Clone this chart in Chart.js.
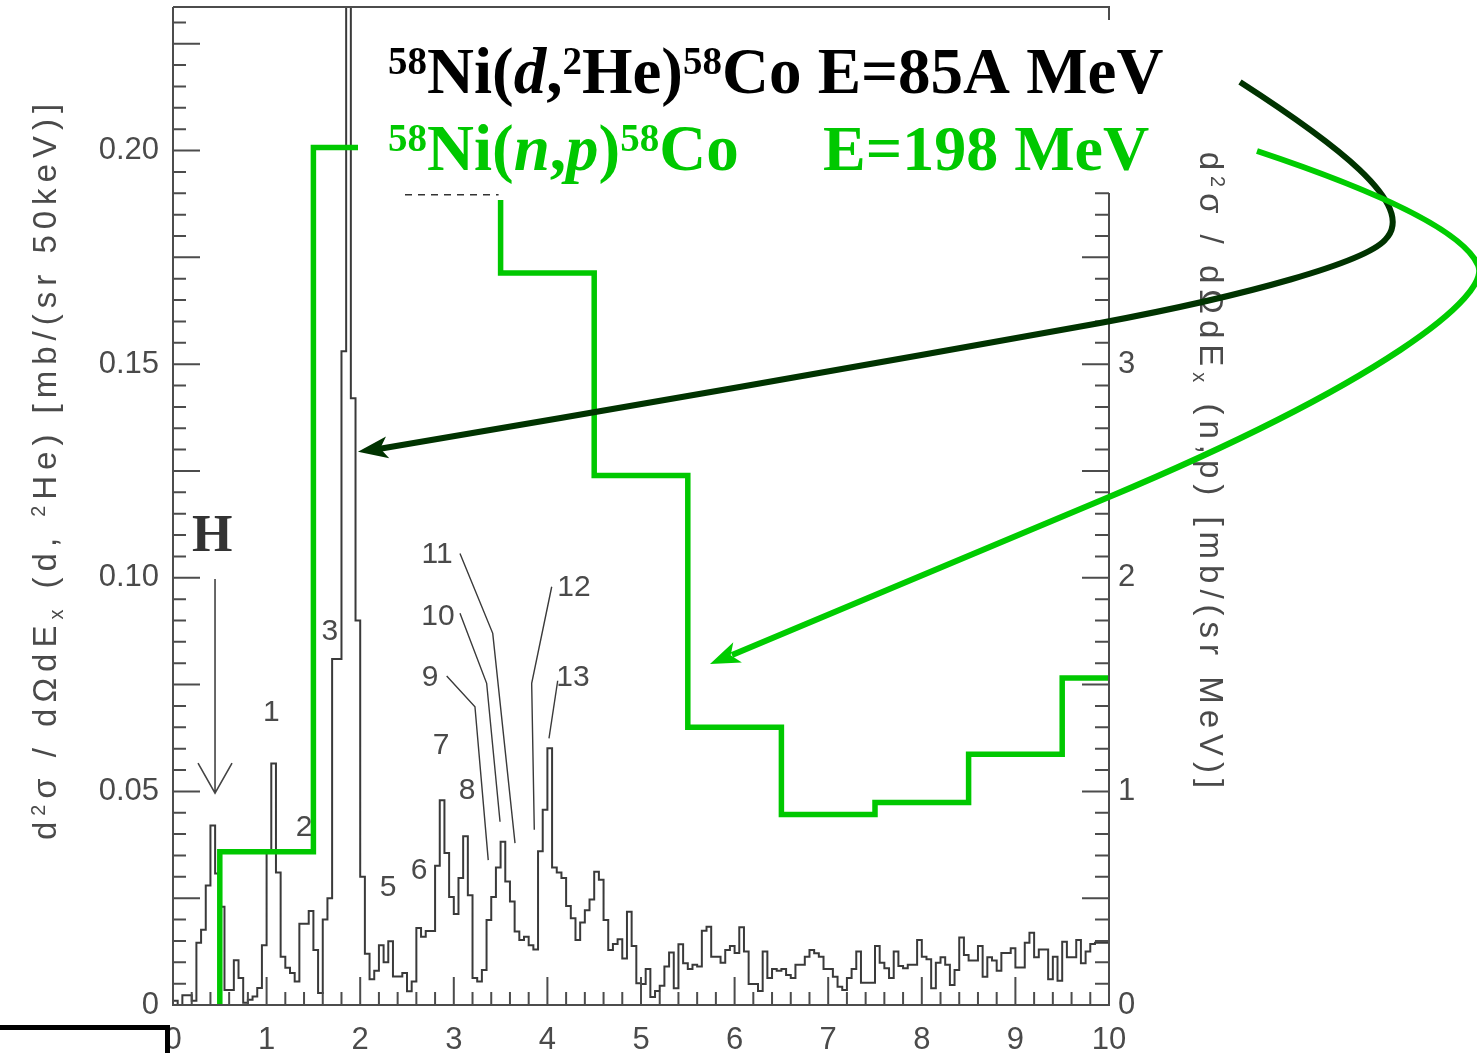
<!DOCTYPE html>
<html>
<head>
<meta charset="utf-8">
<script src="https://cdn.jsdelivr.net/npm/chart.js@4.4.1/dist/chart.umd.min.js"></script>
<style>
  html, body { margin: 0; padding: 0; background: #fff; overflow: hidden; }
  canvas { display: block; }
</style>
</head>
<body>
<canvas id="c" width="1477" height="1053"></canvas>
<script>
// 58Ni(d,2He)58Co spectrum, counts per 50 keV bin from Ex = 0 to 10 MeV
const dHeBinWidth = 0.05;
const dHeValues = [
  0.0010, 0.0000, 0.0023, 0.0023, 0.0010, 0.0146, 0.0176, 0.0280, 0.0420, 0.0308,
  0.0230, 0.0035, 0.0035, 0.0105, 0.0063, 0.0005, 0.0012, 0.0020, 0.0040, 0.0140,
  0.0360, 0.0565, 0.0310, 0.0113, 0.0087, 0.0075, 0.0055, 0.0190, 0.0190, 0.0220,
  0.0129, 0.0028, 0.0200, 0.0250, 0.0810, 0.0810, 0.1530, 0.3000, 0.1420, 0.0900,
  0.0300, 0.0120, 0.0060, 0.0080, 0.0140, 0.0100, 0.0149, 0.0067, 0.0067, 0.0075,
  0.0032, 0.0055, 0.0180, 0.0160, 0.0173, 0.0173, 0.0326, 0.0479, 0.0356, 0.0253,
  0.0213, 0.0297, 0.0395, 0.0257, 0.0063, 0.0055, 0.0082, 0.0199, 0.0253, 0.0322,
  0.0382, 0.0289, 0.0242, 0.0172, 0.0152, 0.0160, 0.0140, 0.0130, 0.0360, 0.0457,
  0.0601, 0.0322, 0.0310, 0.0297, 0.0232, 0.0203, 0.0152, 0.0193, 0.0222, 0.0247,
  0.0312, 0.0293, 0.0199, 0.0129, 0.0143, 0.0154, 0.0109, 0.0218, 0.0138, 0.0051,
  0.0049, 0.0084, 0.0019, 0.0033, 0.0045, 0.0090, 0.0123, 0.0039, 0.0142, 0.0098,
  0.0084, 0.0094, 0.0090, 0.0174, 0.0183, 0.0113, 0.0113, 0.0099, 0.0129, 0.0138,
  0.0122, 0.0182, 0.0125, 0.0049, 0.0049, 0.0033, 0.0125, 0.0063, 0.0084, 0.0080,
  0.0084, 0.0070, 0.0063, 0.0094, 0.0094, 0.0113, 0.0129, 0.0121, 0.0113, 0.0084,
  0.0084, 0.0066, 0.0043, 0.0035, 0.0063, 0.0084, 0.0125, 0.0052, 0.0052, 0.0052,
  0.0138, 0.0099, 0.0086, 0.0063, 0.0125, 0.0091, 0.0086, 0.0094, 0.0094, 0.0152,
  0.0113, 0.0107, 0.0039, 0.0099, 0.0112, 0.0094, 0.0047, 0.0082, 0.0158, 0.0117,
  0.0104, 0.0104, 0.0138, 0.0066, 0.0112, 0.0104, 0.0080, 0.0122, 0.0122, 0.0133,
  0.0088, 0.0088, 0.0146, 0.0169, 0.0112, 0.0130, 0.0130, 0.0060, 0.0113, 0.0057,
  0.0148, 0.0112, 0.0112, 0.0152, 0.0098, 0.0125, 0.0143, 0.0146, 0.0146, 0.0146
];

// 58Ni(n,p)58Co at 198 MeV, 1 MeV bins (last bin half width)
const npEdges  = [0.5, 1.5, 2.5, 3.5, 4.5, 5.5, 6.5, 7.5, 8.5, 9.5, 10];
const npValues = [0.718, 4.014, 3.793, 3.427, 2.479, 1.300, 0.892, 0.948, 1.174, 1.531];

// axis ranges and ticks
const exMin = 0, exMax = 10;
const dHeMax = 0.2336;
const npPerDHe = 20;               // right axis scale factor
const leftTickStep = 0.05;
const rightTickStep = 1;
const xTickStep = 1;

// peak labels: [text, Ex, d2He value]
const peakLabels = [
  ['1', 1.052, 0.0684], ['2', 1.400, 0.0414], ['3', 1.677, 0.0873],
  ['5', 2.297, 0.0274], ['6', 2.628, 0.0314], ['7', 2.863, 0.0606],
  ['8', 3.141, 0.0501], ['9', 2.746, 0.0766], ['10', 2.831, 0.0908],
  ['11', 2.821, 0.1053], ['12', 4.284, 0.0976], ['13', 4.274, 0.0766]
];
// leader lines from labels to peaks: list of [Ex, value] vertices
const leaderLines = [
  [[2.924, 0.0770], [3.226, 0.0698], [3.368, 0.0339]],
  [[3.066, 0.0917], [3.351, 0.0753], [3.494, 0.0429]],
  [[3.066, 0.1057], [3.416, 0.0870], [3.654, 0.0379]],
  [[4.046, 0.0979], [3.832, 0.0753], [3.860, 0.0410]],
  [[4.110, 0.0759], [4.017, 0.0624]]
];
// "H" marker: label and arrow position
const hMarker = { Ex: 0.449, labelY: 0.1093, fromY: 0.0997, toY: 0.0496 };
// arrow targets
const dHeArrowTip = { Ex: 1.976, value: 0.1295 };
const npArrowTip  = { Ex: 5.737, value: 1.596 };

const sans = 'Liberation Sans';
const serif = 'Liberation Serif';
const axisGrey = '#4a4a4a';
const green = 'rgb(0,200,0)';
const darkGreen = '#003300';

// build histogram points (left bin edges + closing edge)
const dHePoints = [{ x: exMin, y: 0 }];
dHeValues.forEach((v, i) => dHePoints.push({ x: i * dHeBinWidth, y: v }));
dHePoints.push({ x: exMax, y: dHeValues[dHeValues.length - 1] });

const npPoints = [{ x: npEdges[0], y: 0 }];
npValues.forEach((v, i) => npPoints.push({ x: npEdges[i], y: v }));
npPoints.push({ x: npEdges[npEdges.length - 1], y: npValues[npValues.length - 1] });

// ---- rich text helpers (superscripts / subscripts / italics) ----
function fontFor(p, size, family, bold) {
  const s = (p.sup || p.sub) ? size * 0.6 : size;
  const b = (p.b !== undefined) ? p.b : bold;
  return (p.it ? 'italic ' : '') + (b ? 'bold ' : '') + s.toFixed(1) + 'px "' + family + '"';
}
function richWidth(ctx, parts, size, family, bold, spacing) {
  let w = 0;
  for (const p of parts) {
    ctx.font = fontFor(p, size, family, bold);
    if (spacing) { for (const ch of p.t) w += ctx.measureText(ch).width + spacing; }
    else w += ctx.measureText(p.t).width;
  }
  return spacing ? w - spacing : w;
}
function drawRich(ctx, parts, x, y, o) {
  const size = o.size, family = o.family, bold = !!o.bold, spacing = o.spacing || 0;
  ctx.save();
  ctx.translate(x, y);
  ctx.rotate(o.angle || 0);
  ctx.fillStyle = o.color;
  ctx.textAlign = 'left';
  ctx.textBaseline = 'alphabetic';
  const w = richWidth(ctx, parts, size, family, bold, spacing);
  let cx = o.align === 'center' ? -w / 2 : 0;
  for (const p of parts) {
    ctx.font = fontFor(p, size, family, bold);
    const dy = p.sup ? -size * (o.supRise || 0.34) : p.sub ? size * 0.2 : 0;
    if (spacing) {
      for (const ch of p.t) { ctx.fillText(ch, cx, dy); cx += ctx.measureText(ch).width + spacing; }
    } else {
      ctx.fillText(p.t, cx, dy); cx += ctx.measureText(p.t).width;
    }
  }
  ctx.restore();
}
function arrowHead(ctx, tipX, tipY, fromX, fromY, len, half, color) {
  const a = Math.atan2(tipY - fromY, tipX - fromX);
  const bx = tipX - len * Math.cos(a), by = tipY - len * Math.sin(a);
  const nx = -Math.sin(a), ny = Math.cos(a);
  const mx = tipX - len * 0.75 * Math.cos(a), my = tipY - len * 0.75 * Math.sin(a);
  ctx.save();
  ctx.fillStyle = color;
  ctx.beginPath();
  ctx.moveTo(tipX, tipY);
  ctx.lineTo(bx + nx * half, by + ny * half);
  ctx.lineTo(mx, my);
  ctx.lineTo(bx - nx * half, by - ny * half);
  ctx.closePath();
  ctx.fill();
  ctx.restore();
}

// ---- overlay: frame, ticks, axis titles, annotations ----
const overlay = {
  id: 'overlay',
  afterDatasetsDraw(chart) {
    const ctx = chart.ctx;
    const xs = chart.scales.x, yl = chart.scales.y, yr = chart.scales.y2;
    const area = chart.chartArea;
    const L = area.left, R = area.right, T = area.top, B = area.bottom;

    // white panel behind the reaction titles
    ctx.save();
    ctx.fillStyle = '#fff';
    ctx.fillRect(358, 20, 742, 180);
    ctx.fillRect(1100, 20, 88, 173);
    ctx.restore();

    // the (n,p) bin hidden under the panel, shown dashed
    ctx.save();
    ctx.strokeStyle = '#333';
    ctx.lineWidth = 1.6;
    ctx.setLineDash([7, 6]);
    const dy = yr.getPixelForValue(npValues[2]);
    ctx.beginPath();
    ctx.moveTo(405, dy);
    ctx.lineTo(xs.getPixelForValue(npEdges[3]) - 2, dy);
    ctx.stroke();
    ctx.restore();

    // frame and ticks
    ctx.save();
    ctx.strokeStyle = '#4c4c4c';
    ctx.lineWidth = 2;
    ctx.lineCap = 'butt';
    ctx.beginPath();
    ctx.moveTo(L, T); ctx.lineTo(R + 1, T);
    ctx.moveTo(L, T); ctx.lineTo(L, B + 1);
    ctx.moveTo(L, B); ctx.lineTo(R + 1, B);
    ctx.moveTo(R, T); ctx.lineTo(R, 20);
    ctx.moveTo(R, 193); ctx.lineTo(R, B + 1);
    ctx.stroke();

    ctx.beginPath();
    for (let i = 0; i * 0.005 <= dHeMax + 1e-9; i++) {
      const y = yl.getPixelForValue(i * 0.005);
      const len = (i % 5 === 0) ? 27 : 13;
      ctx.moveTo(L, y); ctx.lineTo(L + len, y);
    }
    for (let i = 0; i * 0.1 <= dHeMax * npPerDHe + 1e-9; i++) {
      const y = yr.getPixelForValue(i * 0.1);
      if (y < 193) continue;
      const len = (i % 5 === 0) ? 27 : 14;
      ctx.moveTo(R - len, y); ctx.lineTo(R, y);
    }
    for (let i = 0; i <= 50; i++) {
      const x = xs.getPixelForValue(i * 0.2);
      const len = (i % 5 === 0) ? 28 : 13;
      ctx.moveTo(x, B); ctx.lineTo(x, B - len);
    }
    ctx.stroke();
    ctx.restore();

    // axis titles
    drawRich(ctx, [
      { t: 'd' }, { t: '2', sup: true }, { t: 'σ / dΩdE' }, { t: 'x', sub: true },
      { t: ' (d, ' }, { t: '2', sup: true }, { t: 'He) [mb/(sr 50keV)]' }
    ], 56, 472, { size: 33, family: sans, color: axisGrey, spacing: 6, align: 'center', angle: -Math.PI / 2 });
    drawRich(ctx, [
      { t: 'd' }, { t: '2', sup: true }, { t: 'σ / dΩdE' }, { t: 'x', sub: true },
      { t: ' (n,p) [mb/(sr MeV)]' }
    ], 1200, 470, { size: 33, family: sans, color: axisGrey, spacing: 6, align: 'center', angle: Math.PI / 2 });

    // reaction titles
    drawRich(ctx, [
      { t: '58', sup: true }, { t: 'Ni(' }, { t: 'd', it: true }, { t: ',' }, { t: '2', sup: true },
      { t: 'He)' }, { t: '58', sup: true }, { t: 'Co E=85A MeV' }
    ], 388, 93, { size: 65, family: serif, bold: true, color: '#000', supRise: 0.3 });
    drawRich(ctx, [
      { t: '58', sup: true }, { t: 'Ni(' }, { t: 'n', it: true }, { t: ',' }, { t: 'p', it: true },
      { t: ')' }, { t: '58', sup: true }, { t: 'Co' }
    ], 388, 170, { size: 65, family: serif, bold: true, color: green, supRise: 0.3 });
    drawRich(ctx, [{ t: 'E=198 MeV' }], 823, 170, { size: 64, family: serif, bold: true, color: green });

    // curved arrows
    const t1x = xs.getPixelForValue(dHeArrowTip.Ex), t1y = yl.getPixelForValue(dHeArrowTip.value);
    ctx.save();
    ctx.lineCap = 'butt';
    ctx.lineJoin = 'round';
    ctx.strokeStyle = darkGreen;
    ctx.lineWidth = 6;
    ctx.beginPath();
    ctx.moveTo(1240, 82);
    ctx.bezierCurveTo(1330, 140, 1420, 205, 1385, 240);
    ctx.bezierCurveTo(1365, 262, 1250, 295, 1100, 323);
    ctx.quadraticCurveTo(740, 388, t1x + 22, t1y - 3);
    ctx.stroke();
    arrowHead(ctx, t1x, t1y, t1x + 40, t1y - 6, 30, 11, darkGreen);

    const t2x = xs.getPixelForValue(npArrowTip.Ex), t2y = yr.getPixelForValue(npArrowTip.value);
    ctx.strokeStyle = 'rgb(0,204,0)';
    ctx.beginPath();
    ctx.moveTo(1257, 151);
    ctx.bezierCurveTo(1350, 182, 1460, 225, 1478, 265);
    ctx.bezierCurveTo(1492, 296, 1380, 383, 1109, 497);
    ctx.lineTo(t2x + 22, t2y - 9);
    ctx.stroke();
    arrowHead(ctx, t2x, t2y, t2x + 40, t2y - 17, 30, 11, 'rgb(0,204,0)');
    ctx.restore();

    // peak labels and leader lines
    ctx.save();
    ctx.fillStyle = axisGrey;
    ctx.font = '30px "' + sans + '"';
    ctx.textAlign = 'center';
    ctx.textBaseline = 'middle';
    for (const [t, ex, v] of peakLabels) ctx.fillText(t, xs.getPixelForValue(ex), yl.getPixelForValue(v));
    ctx.strokeStyle = '#3a3a3a';
    ctx.lineWidth = 1.4;
    for (const line of leaderLines) {
      ctx.beginPath();
      line.forEach(([ex, v], i) => {
        const px = xs.getPixelForValue(ex), py = yl.getPixelForValue(v);
        if (i === 0) ctx.moveTo(px, py); else ctx.lineTo(px, py);
      });
      ctx.stroke();
    }
    // H marker
    const hx = xs.getPixelForValue(hMarker.Ex);
    const hy0 = yl.getPixelForValue(hMarker.fromY), hy1 = yl.getPixelForValue(hMarker.toY);
    ctx.fillStyle = '#333';
    ctx.font = 'bold 52px "' + serif + '"';
    ctx.fillText('H', xs.getPixelForValue(0.420), yl.getPixelForValue(hMarker.labelY));
    ctx.strokeStyle = '#444';
    ctx.lineWidth = 1.6;
    ctx.beginPath();
    ctx.moveTo(hx, hy0); ctx.lineTo(hx, hy1);
    ctx.moveTo(hx - 17, hy1 - 30); ctx.lineTo(hx, hy1); ctx.lineTo(hx + 17, hy1 - 30);
    ctx.stroke();
    ctx.restore();

    // black corner bar at bottom left
    ctx.save();
    ctx.fillStyle = '#000';
    ctx.fillRect(0, 1025, 170, 5);
    ctx.fillRect(165, 1025, 5, 28);
    ctx.restore();
  }
};

function fixVertical(s, width) {
  s.width = width;
  s.paddingTop = 0;
  s.paddingBottom = 0;
}

new Chart(document.getElementById('c'), {
  type: 'line',
  data: {
    datasets: [
      {
        label: '(n,p)',
        data: npPoints,
        yAxisID: 'y2',
        stepped: 'before',
        borderColor: green,
        borderWidth: 5.5,
        borderJoinStyle: 'miter',
        pointRadius: 0,
        fill: false,
        order: 0
      },
      {
        label: '(d,2He)',
        data: dHePoints,
        yAxisID: 'y',
        stepped: 'before',
        borderColor: '#3a3a3a',
        borderWidth: 2,
        borderJoinStyle: 'miter',
        pointRadius: 0,
        fill: false,
        order: 1
      }
    ]
  },
  options: {
    responsive: false,
    devicePixelRatio: 1,
    animation: false,
    events: [],
    layout: { padding: { left: 0, right: 0, top: 7, bottom: 0 } },
    plugins: { legend: { display: false }, tooltip: { enabled: false } },
    scales: {
      x: {
        type: 'linear', position: 'bottom', min: exMin, max: exMax,
        ticks: { stepSize: xTickStep, color: axisGrey, font: { family: sans, size: 31 }, padding: 17, maxRotation: 0, autoSkip: false },
        grid: { display: false, drawTicks: false },
        border: { display: false },
        afterFit(s) { s.height = 48; s.paddingLeft = 0; s.paddingRight = 0; }
      },
      y: {
        type: 'linear', position: 'left', min: 0, max: dHeMax,
        ticks: {
          stepSize: leftTickStep, includeBounds: false, color: axisGrey,
          font: { family: sans, size: 31 }, padding: 14,
          callback: v => (Math.abs(v) < 1e-9 ? '0' : v.toFixed(2))
        },
        grid: { display: false, drawTicks: false },
        border: { display: false },
        afterFit(s) { fixVertical(s, 173); }
      },
      y2: {
        type: 'linear', position: 'right', min: 0, max: dHeMax * npPerDHe,
        ticks: { stepSize: rightTickStep, includeBounds: false, color: axisGrey, font: { family: sans, size: 31 }, padding: 9 },
        grid: { display: false, drawTicks: false },
        border: { display: false },
        afterFit(s) { fixVertical(s, 368); }
      }
    }
  },
  plugins: [overlay]
});
</script>
</body>
</html>
